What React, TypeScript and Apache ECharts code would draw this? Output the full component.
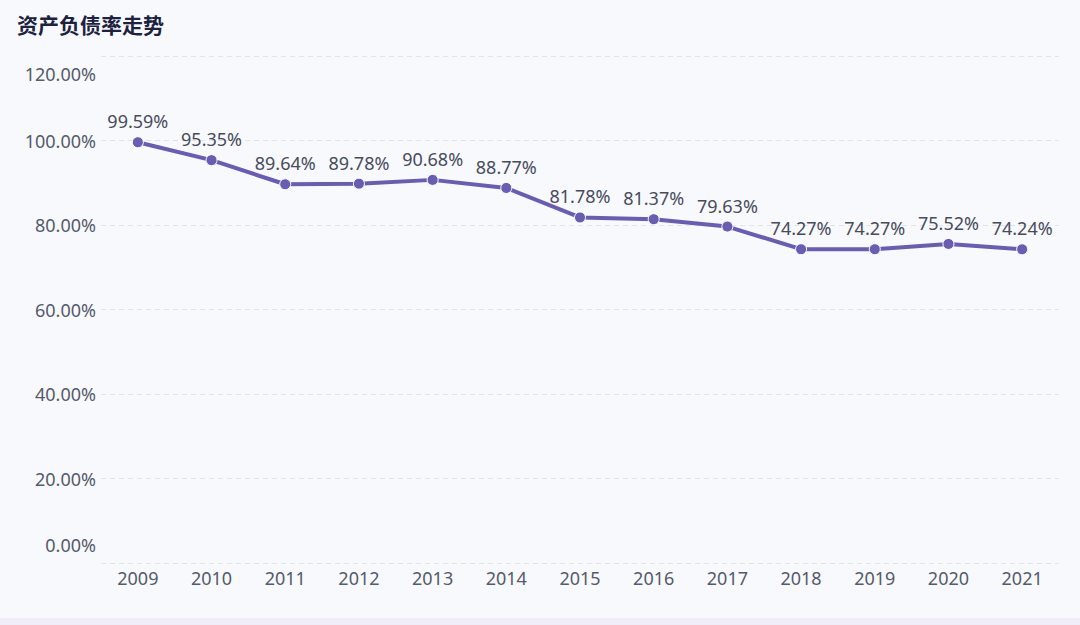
import React, { useEffect, useRef } from "react";
import * as echarts from "echarts";

const years = ["2009", "2010", "2011", "2012", "2013", "2014", "2015", "2016", "2017", "2018", "2019", "2020", "2021"];
const ratios = [99.59, 95.35, 89.64, 89.78, 90.68, 88.77, 81.78, 81.37, 79.63, 74.27, 74.27, 75.52, 74.24];
const titleText = "资产负债率走势";

export default function App() {
  const ref = useRef<HTMLDivElement>(null);
  useEffect(() => {
    if (!ref.current) return;
    const chart = echarts.init(ref.current, null, { renderer: "svg" });
    chart.setOption({
      animation: false,
      backgroundColor: "#f8f9fc",
      title: {
        text: titleText,
        left: 12,
        top: 8,
        textStyle: { fontSize: 21, fontWeight: "bold", color: "#1c2240", fontFamily: "Noto Sans CJK SC" },
      },
      grid: { left: 101, right: 21, top: 56, bottom: 62 },
      xAxis: {
        type: "category",
        data: years,
        boundaryGap: true,
        axisLine: { show: false },
        axisTick: { show: false },
        axisLabel: { color: "#555b6b", fontSize: 18, margin: 6, fontFamily: "Noto Sans" },
      },
      yAxis: {
        type: "value",
        min: 0,
        max: 120,
        interval: 20,
        axisLine: { show: false },
        axisTick: { show: false },
        axisLabel: {
          color: "#555b6b",
          fontSize: 18,
          margin: 5,
          lineHeight: 36,
          fontFamily: "Noto Sans",
          formatter: (v: number) => v.toFixed(2) + "%",
          verticalAlignMinLabel: "bottom",
          verticalAlignMaxLabel: "top",
        },
        splitLine: { lineStyle: { color: "#e2e4ea", type: [5, 4], width: 1 } },
      },
      series: [
        {
          type: "line",
          data: ratios,
          symbol: "circle",
          symbolSize: 11,
          lineStyle: { color: "#6a5bb5", width: 4 },
          itemStyle: { color: "#6a5bb5", borderColor: "#ffffff", borderWidth: 1 },
          label: {
            show: true,
            position: "top",
            distance: 6,
            color: "#474c5c",
            fontSize: 18,
            fontFamily: "Noto Sans",
            formatter: (p: any) => p.value.toFixed(2) + "%",
          },
        },
      ],
      graphic: [
        { type: "rect", shape: { x: 0, y: 618, width: 1080, height: 7 }, style: { fill: "#f1edf8" } },
      ],
    });
    return () => chart.dispose();
  }, []);
  return <div ref={ref} style={{ width: 1080, height: 625, position: "absolute", left: 0, top: 0 }} />;
}
